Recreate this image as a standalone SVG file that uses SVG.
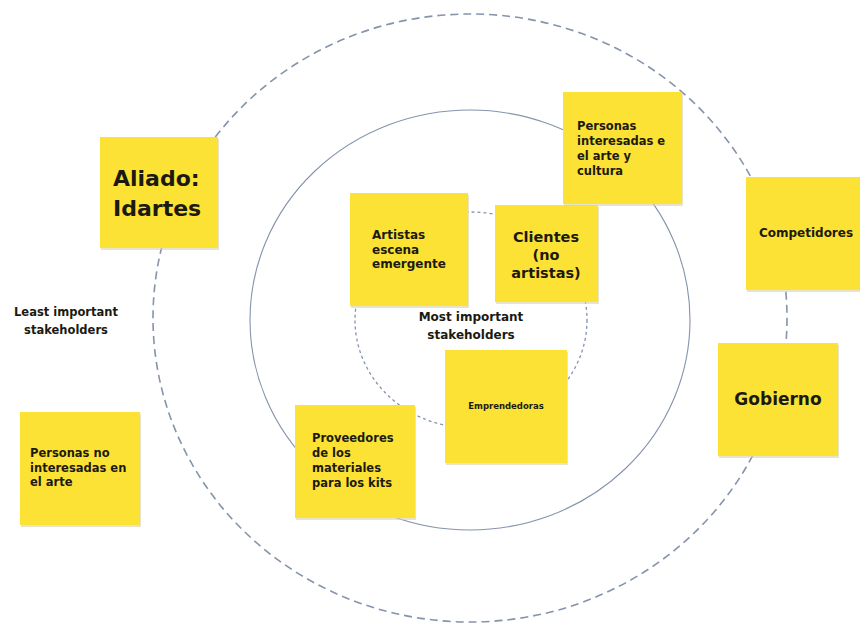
<svg xmlns="http://www.w3.org/2000/svg" width="860" height="625" viewBox="0 0 860 625">
<style>
.note{fill:#FCE234}
.shadow{fill:#d9d2a8;opacity:0.6}
.t{font-family:"DejaVu Sans",Verdana,sans-serif;font-weight:bold;fill:#1c1a10}
.s{font-size:11.5px}
.c{text-anchor:middle}
.ring{fill:none;stroke:#8593ab}
</style>
<rect width="860" height="625" fill="#ffffff"/>
<g id="connectors">
<ellipse class="ring" cx="470" cy="318" rx="317" ry="304" stroke-width="1.6" stroke-dasharray="8 5"/>
<ellipse class="ring" cx="470" cy="320" rx="220" ry="210" stroke-width="1.1"/>
<ellipse class="ring" cx="471" cy="320" rx="116" ry="108" stroke-width="1.3" stroke-dasharray="3 3"/>
</g>
<g id="label-least">
<text class="t c" x="66" y="316" font-size="11.5">Least important</text>
<text class="t c" x="66" y="334" font-size="11.5">stakeholders</text>
</g>
<g id="label-most">
<text class="t c" x="471" y="321" font-size="12">Most important</text>
<text class="t c" x="471" y="339" font-size="12">stakeholders</text>
</g>
<g id="aliado">
<rect class="shadow" x="101" y="139" width="118" height="111"/>
<rect class="note" x="100" y="137" width="118" height="111"/>
<text class="t" x="113" y="186" font-size="22">Aliado:</text>
<text class="t" x="113" y="216" font-size="22">Idartes</text>
</g>
<g id="artistas">
<rect class="shadow" x="351" y="195" width="118" height="113"/>
<rect class="note" x="350" y="193" width="118" height="113"/>
<text class="t" x="372" y="239" font-size="12">Artistas</text>
<text class="t" x="372" y="254" font-size="12">escena</text>
<text class="t" x="372" y="268" font-size="12">emergente</text>
</g>
<g id="clientes">
<rect class="shadow" x="496" y="207" width="103" height="97"/>
<rect class="note" x="495" y="205" width="103" height="97"/>
<text class="t c" x="546" y="242" font-size="14.5">Clientes</text>
<text class="t c" x="546" y="260" font-size="14.5">(no</text>
<text class="t c" x="546" y="278" font-size="14.5">artistas)</text>
</g>
<g id="personas-interesadas">
<rect class="shadow" x="564" y="94" width="119" height="112"/>
<rect class="note" x="563" y="92" width="119" height="112"/>
<text class="t s" x="577" y="130">Personas</text>
<text class="t s" x="577" y="145">interesadas e</text>
<text class="t s" x="577" y="160">el arte y</text>
<text class="t s" x="577" y="175">cultura</text>
</g>
<g id="competidores">
<rect class="shadow" x="747" y="179" width="114" height="113"/>
<rect class="note" x="746" y="177" width="114" height="113"/>
<text class="t c" x="806" y="237" font-size="12">Competidores</text>
</g>
<g id="gobierno">
<rect class="shadow" x="719" y="345" width="120" height="113"/>
<rect class="note" x="718" y="343" width="120" height="113"/>
<text class="t c" x="778" y="405" font-size="17">Gobierno</text>
</g>
<g id="emprendedoras">
<rect class="shadow" x="446" y="352" width="122" height="113"/>
<rect class="note" x="445" y="350" width="122" height="113"/>
<text class="t c" x="506" y="409" font-size="8.5">Emprendedoras</text>
</g>
<g id="proveedores">
<rect class="shadow" x="296" y="407" width="120" height="113"/>
<rect class="note" x="295" y="405" width="120" height="113"/>
<text class="t s" x="312" y="442">Proveedores</text>
<text class="t s" x="312" y="457">de los</text>
<text class="t s" x="312" y="472">materiales</text>
<text class="t s" x="312" y="487">para los kits</text>
</g>
<g id="personas-no-interesadas">
<rect class="shadow" x="21" y="414" width="120" height="113"/>
<rect class="note" x="20" y="412" width="120" height="113"/>
<text class="t s" x="30" y="457">Personas no</text>
<text class="t s" x="30" y="472">interesadas en</text>
<text class="t s" x="30" y="486">el arte</text>
</g>
</svg>
